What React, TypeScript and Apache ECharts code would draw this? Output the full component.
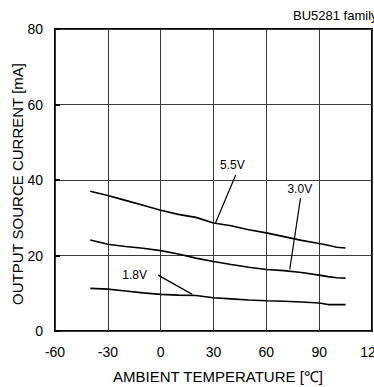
import React, { useEffect, useRef } from "react";
import * as echarts from "echarts";

const temps = [-40, -30, -20, -10, 0, 10, 20, 30, 40, 50, 60, 70, 80, 90, 95, 100, 105];
const v55 = [37.0, 35.9, 34.6, 33.3, 32.0, 30.9, 30.1, 28.6, 27.9, 26.8, 26.0, 25.0, 24.0, 23.2, 22.7, 22.2, 22.0];
const v30 = [24.1, 23.0, 22.4, 21.9, 21.3, 20.4, 19.3, 18.4, 17.6, 16.9, 16.3, 16.0, 15.5, 14.8, 14.4, 14.1, 14.0];
const v18 = [11.3, 11.1, 10.6, 10.1, 9.7, 9.5, 9.4, 8.8, 8.5, 8.2, 8.0, 7.9, 7.7, 7.4, 7.0, 7.0, 7.0];

// annotations: label text, label position, leader start, leader end (data coords)
const annLabels = ["5.5V", "3.0V", "1.8V"];
const annText: number[][] = [[40.7, 44.0], [79.0, 37.5], [-14.8, 14.8]];
const annFrom: number[][] = [[42.6, 41.3], [79.4, 35.2], [-1.5, 14.8]];
const annTo: number[][] = [[31.2, 28.7], [73.3, 16.3], [18.0, 9.7]];

const FONT = "'Liberation Sans', Arial, sans-serif";

export default function App() {
  const ref = useRef<HTMLDivElement>(null);
  useEffect(() => {
    if (!ref.current) return;
    const chart = echarts.init(ref.current, null, { renderer: "svg" });
    const mk = (vals: number[]) => ({
      type: "line",
      data: temps.map((t, i) => [t, vals[i]]),
      showSymbol: false,
      symbol: "none",
      lineStyle: { color: "#000", width: 1.6 },
      silent: true,
    });
    chart.setOption({
      animation: false,
      textStyle: { fontFamily: FONT },
      grid: {
        left: 55,
        right: 2,
        top: 29,
        bottom: 56,
        show: true,
        borderColor: "#000",
        borderWidth: 2,
        containLabel: false,
        outerBoundsMode: "none",
      },
      xAxis: {
        type: "value",
        min: -60,
        max: 120,
        interval: 30,
        name: "AMBIENT TEMPERATURE [℃]",
        nameLocation: "middle",
        nameGap: 38,
        nameTextStyle: { fontSize: 15, color: "#000", fontFamily: FONT, padding: [0, 0, 0, 9] },
        axisLine: { show: false, onZero: false },
        axisTick: { show: false },
        axisLabel: { fontSize: 14, color: "#000", margin: 14, fontFamily: FONT, hideOverlap: false },
        splitLine: { show: true, lineStyle: { color: "#3a3a3a", width: 1 } },
      },
      yAxis: {
        type: "value",
        min: 0,
        max: 80,
        interval: 20,
        axisLine: { show: false, onZero: false },
        axisTick: { show: true, inside: true, length: 5, lineStyle: { color: "#000", width: 2 } },
        axisLabel: { fontSize: 14, color: "#000", margin: 12, fontFamily: FONT },
        splitLine: { show: true, lineStyle: { color: "#3a3a3a", width: 1 } },
      },
      series: [mk(v55), mk(v30), mk(v18)],
    });
    const px = (p: number[]) => chart.convertToPixel({ gridIndex: 0 }, p) as number[];
    const elements: any[] = [
      {
        type: "text",
        x: 293,
        y: 15,
        style: { text: "BU5281 family", fontSize: 13, fill: "#000", fontFamily: FONT, verticalAlign: "middle", align: "left" },
      },
      {
        type: "text",
        x: 17,
        y: 184,
        rotation: Math.PI / 2,
        style: { text: "OUTPUT SOURCE CURRENT [mA]", fontSize: 15, fill: "#000", fontFamily: FONT, align: "center", verticalAlign: "middle" },
      },
    ];
    annLabels.forEach((lab, i) => {
      const a = px(annFrom[i]);
      const b = px(annTo[i]);
      const c = px(annText[i]);
      elements.push({
        type: "line",
        shape: { x1: a[0], y1: a[1], x2: b[0], y2: b[1] },
        style: { stroke: "#000", lineWidth: 1.2 },
      });
      elements.push({
        type: "text",
        x: c[0],
        y: c[1],
        style: { text: lab, fontSize: 12, fill: "#000", fontFamily: FONT, align: "center", verticalAlign: "middle" },
      });
    });
    chart.setOption({ graphic: elements });
    return () => chart.dispose();
  }, []);
  return (
    <div
      ref={ref}
      style={{ position: "fixed", left: 0, top: 0, width: 374, height: 387, background: "#fff" }}
    />
  );
}
